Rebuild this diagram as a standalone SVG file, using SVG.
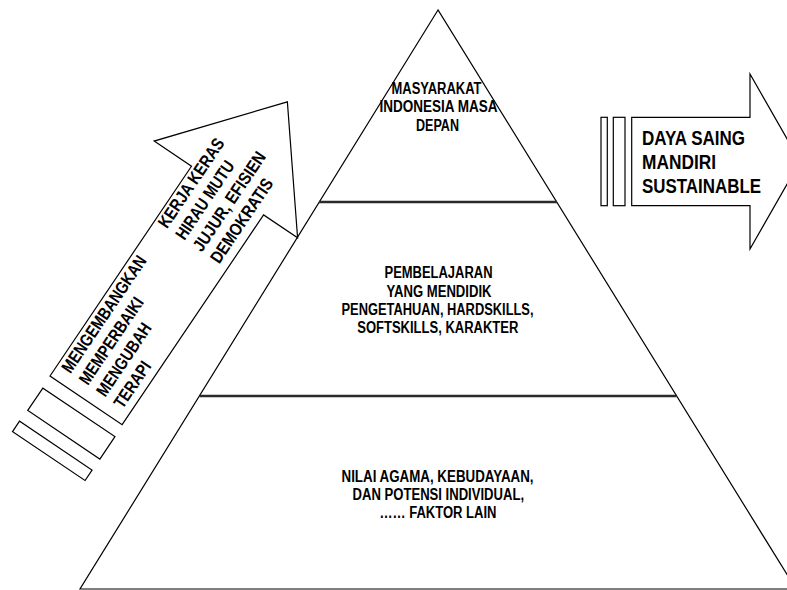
<svg xmlns="http://www.w3.org/2000/svg" width="787" height="590" viewBox="0 0 787 590">
<style>
.shape{fill:#fff;stroke:#000;stroke-width:1.2;stroke-linejoin:miter}
.div{stroke:#2a2a2a;stroke-width:2.5;fill:none}
.t{font-family:"Liberation Sans",Arial,sans-serif;font-weight:bold;fill:#000}
.c{text-anchor:middle;font-size:16px}
</style>
<rect width="787" height="590" fill="#fff"/>
<g id="pyramid">
<polygon class="shape" points="438,10 80,589 796,589"/>
<line class="div" x1="319" y1="202" x2="557" y2="202"/>
<line class="div" x1="199.5" y1="396" x2="676.5" y2="396"/>
</g>
<g id="level-top">
<text class="t c" x="436.5" y="93.5" textLength="90" lengthAdjust="spacingAndGlyphs">MASYARAKAT</text>
<text class="t c" x="438.5" y="112" textLength="118" lengthAdjust="spacingAndGlyphs">INDONESIA MASA</text>
<text class="t c" x="437.5" y="131" textLength="43" lengthAdjust="spacingAndGlyphs">DEPAN</text>
</g>
<g id="level-middle">
<text class="t c" x="438.5" y="278.3" textLength="108" lengthAdjust="spacingAndGlyphs">PEMBELAJARAN</text>
<text class="t c" x="439" y="296.6" textLength="105" lengthAdjust="spacingAndGlyphs">YANG MENDIDIK</text>
<text class="t c" x="437.5" y="314.9" textLength="192" lengthAdjust="spacingAndGlyphs">PENGETAHUAN, HARDSKILLS,</text>
<text class="t c" x="437.8" y="333.2" textLength="161" lengthAdjust="spacingAndGlyphs">SOFTSKILLS, KARAKTER</text>
</g>
<g id="level-bottom">
<text class="t c" x="437.5" y="482.3" textLength="192" lengthAdjust="spacingAndGlyphs">NILAI AGAMA, KEBUDAYAAN,</text>
<text class="t c" x="438.3" y="500.2" textLength="171.5" lengthAdjust="spacingAndGlyphs">DAN POTENSI INDIVIDUAL,</text>
<text class="t c" x="438" y="518" textLength="117" lengthAdjust="spacingAndGlyphs">…… FAKTOR LAIN</text>
</g>
<g id="left-arrow" transform="translate(50,376) rotate(-56)">
<rect class="shape" x="-67" y="0" width="12.5" height="87.5"/>
<rect class="shape" x="-41" y="0.8" width="27" height="87"/>
<polygon class="shape" points="0,0 253,0 253,-45 360,43.5 253,128 253,87 0,87"/>
<g class="t" font-size="17.5">
<text x="13" y="16" textLength="137" lengthAdjust="spacingAndGlyphs">MENGEMBANGKAN</text>
<text x="13" y="37" textLength="101" lengthAdjust="spacingAndGlyphs">MEMPERBAIKI</text>
<text x="13" y="58" textLength="84" lengthAdjust="spacingAndGlyphs">MENGUBAH</text>
<text x="13" y="79" textLength="52" lengthAdjust="spacingAndGlyphs">TERAPI</text>
<text x="187" y="15" textLength="104" lengthAdjust="spacingAndGlyphs">KERJA KERAS</text>
<text x="187" y="36" textLength="91" lengthAdjust="spacingAndGlyphs">HIRAU MUTU</text>
<text x="187" y="57" textLength="116" lengthAdjust="spacingAndGlyphs">JUJUR, EFISIEN</text>
<text x="187" y="78" textLength="98" lengthAdjust="spacingAndGlyphs">DEMOKRATIS</text>
</g>
</g>
<g id="right-arrow">
<rect class="shape" x="601" y="117.3" width="6.3" height="88.4"/>
<rect class="shape" x="613.3" y="117.3" width="11.7" height="88.4"/>
<polygon class="shape" points="631.7,117.3 750,117.3 750,74 800,161.5 750,249 750,205.7 631.7,205.7"/>
<g class="t" font-size="20">
<text x="642" y="145" textLength="103" lengthAdjust="spacingAndGlyphs">DAYA SAING</text>
<text x="642" y="169" textLength="74" lengthAdjust="spacingAndGlyphs">MANDIRI</text>
<text x="642" y="193" textLength="119" lengthAdjust="spacingAndGlyphs">SUSTAINABLE</text>
</g>
</g>
<g id="connectors"></g>
</svg>
